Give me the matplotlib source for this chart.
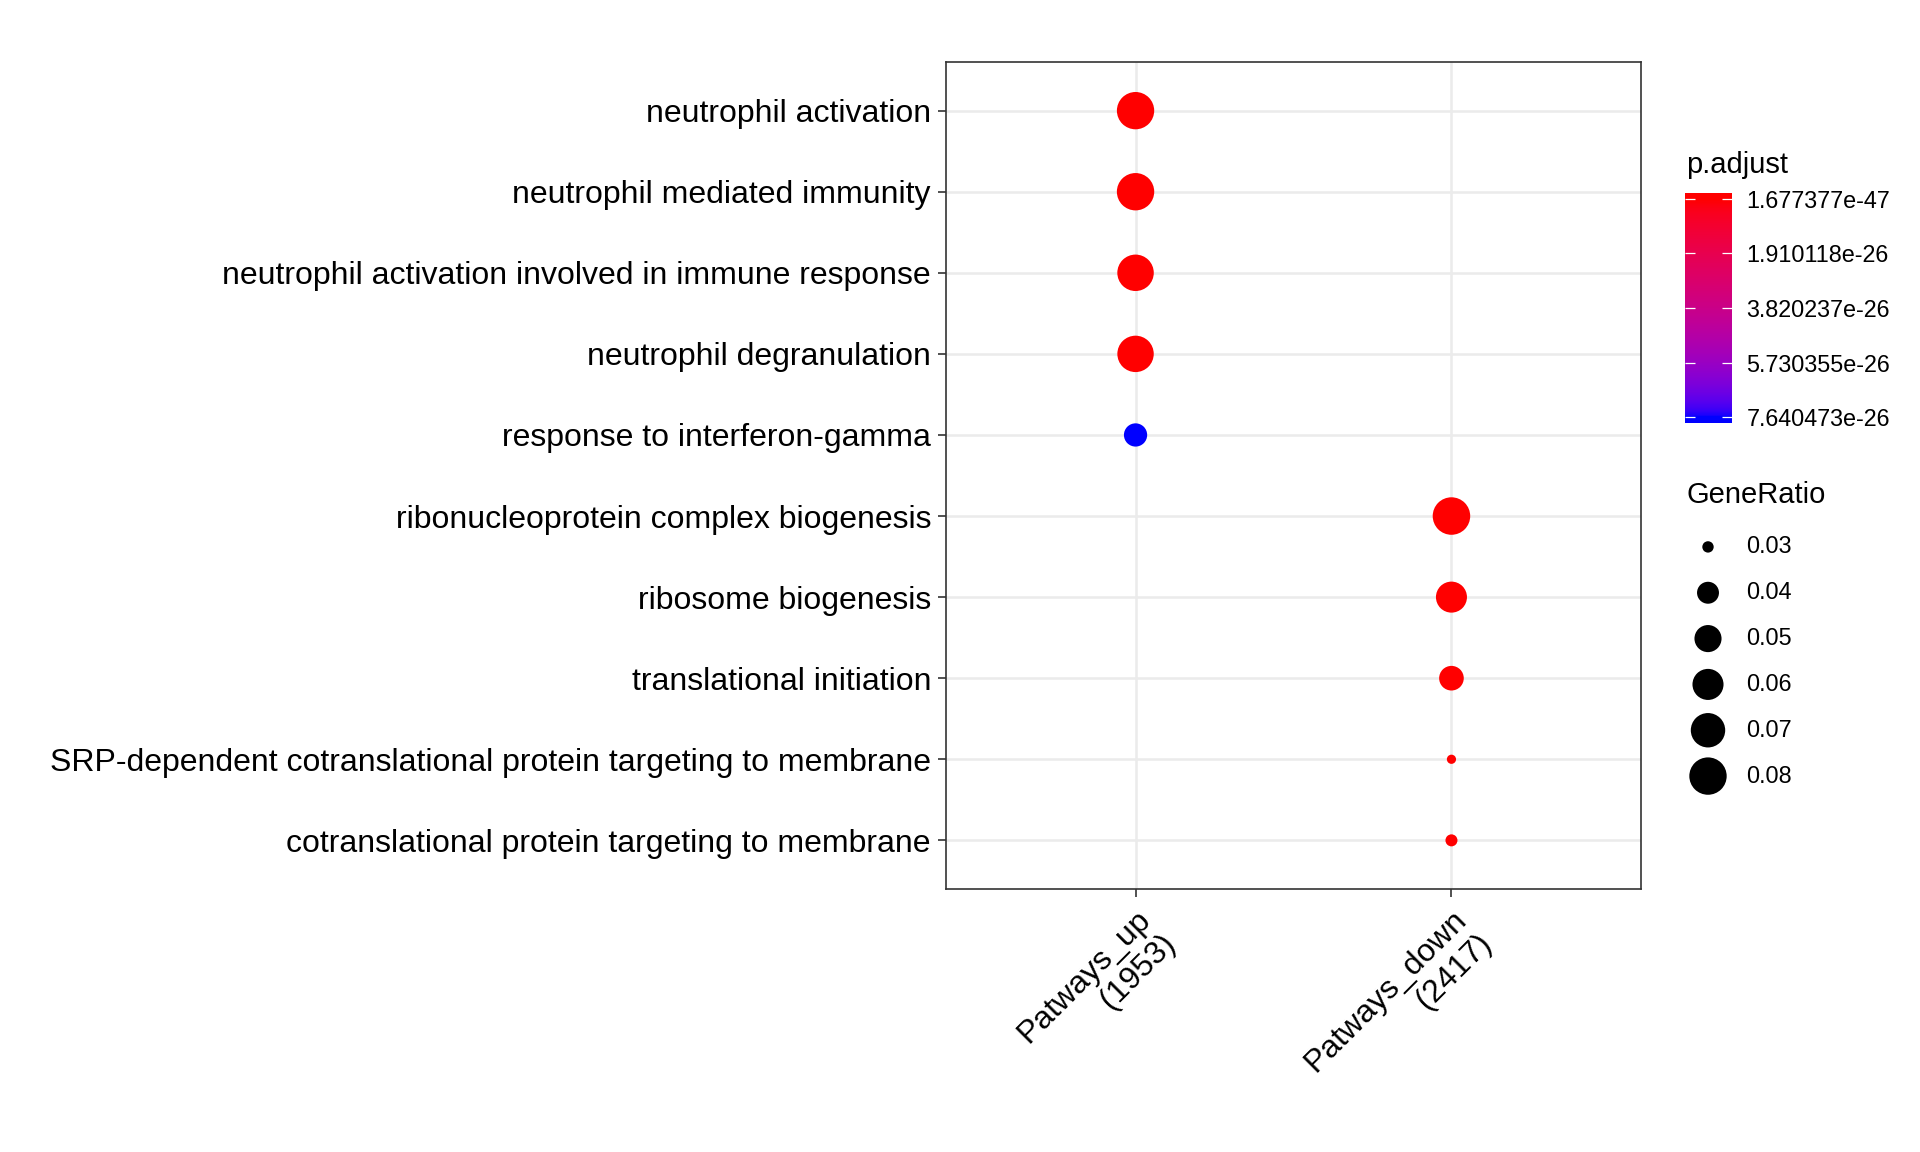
import numpy as np
import matplotlib
matplotlib.use("Agg")
import matplotlib.pyplot as plt
from matplotlib.colors import ListedColormap, Normalize

plt.rcParams['font.family'] = ['Liberation Sans', 'DejaVu Sans']

# data
clusters = ['Patways_up\n(1953)', 'Patways_down\n(2417)']
terms = [
    'neutrophil activation',
    'neutrophil mediated immunity',
    'neutrophil activation involved in immune response',
    'neutrophil degranulation',
    'response to interferon-gamma',
    'ribonucleoprotein complex biogenesis',
    'ribosome biogenesis',
    'translational initiation',
    'SRP-dependent cotranslational protein targeting to membrane',
    'cotranslational protein targeting to membrane',
]
term_cluster = [0, 0, 0, 0, 0, 1, 1, 1, 1, 1]
gene_ratio = [0.0798, 0.0800, 0.0768, 0.0766, 0.0422,
              0.0805, 0.0599, 0.0448, 0.0297, 0.0302]
p_adjust = [3.2e-40, 4.1e-40, 6.5e-39, 2.3e-38, 7.640473e-26,
            1.677377e-47, 8.1e-44, 2.4e-35, 5.3e-33, 1.2e-32]
cbar_labels = ['1.677377e-47', '1.910118e-26', '3.820237e-26',
               '5.730355e-26', '7.640473e-26']
size_breaks = [0.03, 0.04, 0.05, 0.06, 0.07, 0.08]

W, H, DPI = 1920, 1152, 100


# red -> blue gradient interpolated in CIELAB, like ggplot's scale_color_gradient
def srgb_to_lab(rgb):
    rgb = np.asarray(rgb, float)
    lin = np.where(rgb <= 0.04045, rgb / 12.92, ((rgb + 0.055) / 1.055) ** 2.4)
    M = np.array([[0.4124564, 0.3575761, 0.1804375],
                  [0.2126729, 0.7151522, 0.0721750],
                  [0.0193339, 0.1191920, 0.9503041]])
    xyz = M @ lin / np.array([0.95047, 1.0, 1.08883])
    f = np.where(xyz > 216 / 24389, np.cbrt(xyz), (24389 / 27 * xyz + 16) / 116)
    return np.array([116 * f[1] - 16, 500 * (f[0] - f[1]), 200 * (f[1] - f[2])])


def lab_to_srgb(lab):
    L, a, b = lab
    fy = (L + 16) / 116
    f = np.array([fy + a / 500, fy, fy - b / 200])
    xyz = np.where(f ** 3 > 216 / 24389, f ** 3, (116 * f - 16) / (24389 / 27))
    xyz = xyz * np.array([0.95047, 1.0, 1.08883])
    Minv = np.array([[3.2404542, -1.5371385, -0.4985314],
                     [-0.9692660, 1.8760108, 0.0415560],
                     [0.0556434, -0.2040259, 1.0572252]])
    lin = np.clip(Minv @ xyz, 0, 1)
    rgb = np.where(lin <= 0.0031308, 12.92 * lin, 1.055 * lin ** (1 / 2.4) - 0.055)
    return np.clip(rgb, 0, 1)


lab_lo = srgb_to_lab([1, 0, 0])
lab_hi = srgb_to_lab([0, 0, 1])
cmap = ListedColormap([lab_to_srgb(lab_lo + t * (lab_hi - lab_lo))
                       for t in np.linspace(0, 1, 256)])

pmin, pmax = min(p_adjust), max(p_adjust)
norm = Normalize(vmin=pmin, vmax=pmax)

gmin, gmax = min(gene_ratio), max(gene_ratio)


def size_of(v):
    # area scale: diameter grows with sqrt of the rescaled ratio
    d_px = 9.2 + 28.3 * np.sqrt(np.clip((np.asarray(v) - gmin) / (gmax - gmin), 0, 1))
    return (d_px * 72 / DPI) ** 2


def px_box(x0, x1, y0, y1):
    return [x0 / W, 1 - y1 / H, (x1 - x0) / W, (y1 - y0) / H]


fig = plt.figure(figsize=(W / DPI, H / DPI), dpi=DPI)
ax = fig.add_axes(px_box(946, 1641, 62, 889))

ypos = np.arange(len(terms))
ax.scatter(term_cluster, ypos, s=size_of(gene_ratio), c=p_adjust, cmap=cmap,
           norm=norm, linewidths=0, zorder=3)

ax.set_xlim(-0.6, len(clusters) - 1 + 0.6)
ax.set_ylim(len(terms) - 1 + 0.6, -0.6)
ax.set_xticks(range(len(clusters)))
ax.set_xticklabels(clusters, rotation=45, ha='right', va='top',
                   rotation_mode='anchor', multialignment='right', fontsize=23)
ax.set_yticks(ypos)
ax.set_yticklabels(terms, fontsize=23)
ax.grid(True, color='#EBEBEB', linewidth=1.8, zorder=0)
ax.set_axisbelow(True)
for sp in ax.spines.values():
    sp.set_color('#333333')
    sp.set_linewidth(1.2)
ax.tick_params(axis='both', color='#333333', length=5.8, width=1.2, pad=5,
               labelcolor='black')

# colour bar
fig.text(1686 / W, 1 - 165 / H, 'p.adjust', fontsize=21, ha='left', va='center')
cax = fig.add_axes(px_box(1685, 1732, 193, 423))
span = pmax - pmin
lo, hi = pmin - 0.027 * span, pmax + 0.027 * span
grad = np.linspace(lo, hi, 300).reshape(-1, 1)
cax.imshow(grad, cmap=cmap, norm=norm, aspect='auto', origin='lower',
           extent=(0, 1, lo, hi))
cax.set_xlim(0, 1)
cax.set_ylim(hi, lo)
cax.set_xticks([])
cax.set_yticks(np.linspace(pmin, pmax, len(cbar_labels)))
cax.set_yticklabels(cbar_labels, fontsize=16.8)
cax.tick_params(axis='y', left=True, right=True, labelleft=False, labelright=True,
                direction='in', color='white', length=7.2, width=0.9, pad=10.5)
for sp in cax.spines.values():
    sp.set_visible(False)

# size legend
fig.text(1686 / W, 1 - 495 / H, 'GeneRatio', fontsize=21, ha='left', va='center')
lax = fig.add_axes(px_box(1670, 1900, 524, 799))
lax.set_xlim(1670, 1900)
lax.set_ylim(len(size_breaks) - 0.5, -0.5)
lax.axis('off')
lpos = np.arange(len(size_breaks))
lax.scatter([1708] * len(size_breaks), lpos, s=size_of(size_breaks),
            color='black', linewidths=0)
for i, v in enumerate(size_breaks):
    lax.text(1746, i, f'{v:.2f}', fontsize=16.8, ha='left', va='center')

fig.savefig('out.png', dpi=DPI)
